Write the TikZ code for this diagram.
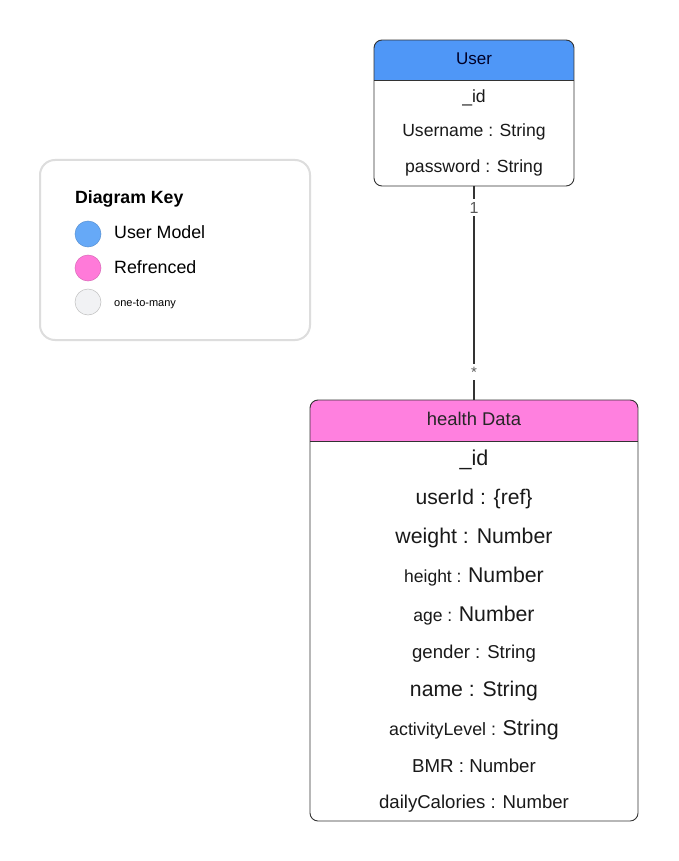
\documentclass[tikz,border=0pt]{standalone}
\usepackage{fontspec}
\setmainfont{Liberation Sans}
\definecolor{userblue}{HTML}{4F97F7}
\definecolor{refpink}{HTML}{FF80DF}
\definecolor{keyblue}{HTML}{66A9F7}
\definecolor{keypink}{HTML}{FF7AD9}
\definecolor{keygray}{HTML}{F1F2F4}
\definecolor{edge}{HTML}{333333}
\definecolor{keyedge}{HTML}{DDDDDD}
\newcommand{\fs}[1]{\fontsize{#1}{#1}\selectfont}
\tikzset{
  box/.style={draw=edge, line width=0.9pt, rounded corners=8pt, inner sep=0pt},
  row/.style={inner sep=0pt, anchor=base, text=black!90},
  keydot/.style={circle, minimum size=26pt, inner sep=0pt, draw=#1!85!black, line width=0.5pt},
  mult/.style={fill=white, inner sep=3pt, text=black!65}
}
\begin{document}
\begin{tikzpicture}[x=1pt,y=-1pt]
\useasboundingbox[fill=white] (0,0) rectangle (678,861);

% Key
\node[draw=keyedge, line width=2pt, rounded corners=15pt, minimum width=270pt, minimum height=180pt, inner sep=0pt] (key) at (175,250) {};
\node[anchor=base west, inner sep=0pt] (keytitle) at (75,203) {\fs{17.7}\bfseries Diagram Key};
\node[keydot=keyblue, fill=keyblue] (kd1) at (88,234) {};
\node[keydot=keypink, fill=keypink] (kd2) at (88,268) {};
\node[keydot=gray, fill=keygray, draw=black!25] (kd3) at (88,302) {};
\node[anchor=base west, inner sep=0pt] (kl1) at (114,238) {\fs{17.8}User Model};
\node[anchor=base west, inner sep=0pt] (kl2) at (114,273) {\fs{17.8}Refrenced};
\node[anchor=base west, inner sep=0pt] (kl3) at (114,306) {\fs{11}one-to-many};

% User box
\begin{scope}
\clip[rounded corners=8pt] (374,40) rectangle (574,186);
\fill[userblue] (374,40) rectangle (574,80);
\end{scope}
\node[box, minimum width=200pt, minimum height=146pt] (user) at (474,113) {};
\draw[edge, line width=0.9pt] (374,80) -- (574,80);
\node[row, text=black!75!blue!60!black] (uh) at (474,65) {\fs{17}User};
\node[row] (u1) at (474,103) {\fs{17.6}\_id};
\node[row] (u2) at (474,137) {\fs{17.6}Username : String};
\node[row] (u3) at (474,172) {\fs{17.6}password : String};

% Health box
\begin{scope}
\clip[rounded corners=8pt] (310,400) rectangle (638,821);
\fill[refpink] (310,400) rectangle (638,441);
\end{scope}
\node[box, minimum width=328pt, minimum height=421pt] (health) at (474,610.5) {};
\draw[edge, line width=0.9pt] (310,441) -- (638,441);
\node[row, text=black!85] (hh) at (474,425) {\fs{18.4}health Data};
\node[row] (h1) at (474,465) {\fs{21.5}\_id};
\node[row] (h2) at (474,504) {\fs{21.1}userId : \{ref\}};
\node[row] (h3) at (474,543) {\fs{21.3}weight : Number};
\node[row] (h4) at (474,582) {\fs{17.5}height : \fs{21.3}Number};
\node[row] (h5) at (474,621) {\fs{17.5}age : \fs{21.3}Number};
\node[row] (h6) at (474,658) {\fs{18.6}gender : String};
\node[row] (h7) at (474,696) {\fs{21.2}name : String};
\node[row] (h8) at (474,735) {\fs{17.8}activityLevel : \fs{21.5}String};
\node[row] (h9) at (474,772) {\fs{18.7}BMR : Number};
\node[row] (h10) at (474,808) {\fs{18.6}dailyCalories : Number};

% Connector
\draw[edge, line width=1.3pt] (user.south) -- (health.north)
  node[mult, pos=0.1] (m1) {\fs{16}1}
  node[mult, pos=0.87] (m2) {\fs{15}*};
\end{tikzpicture}
\end{document}
